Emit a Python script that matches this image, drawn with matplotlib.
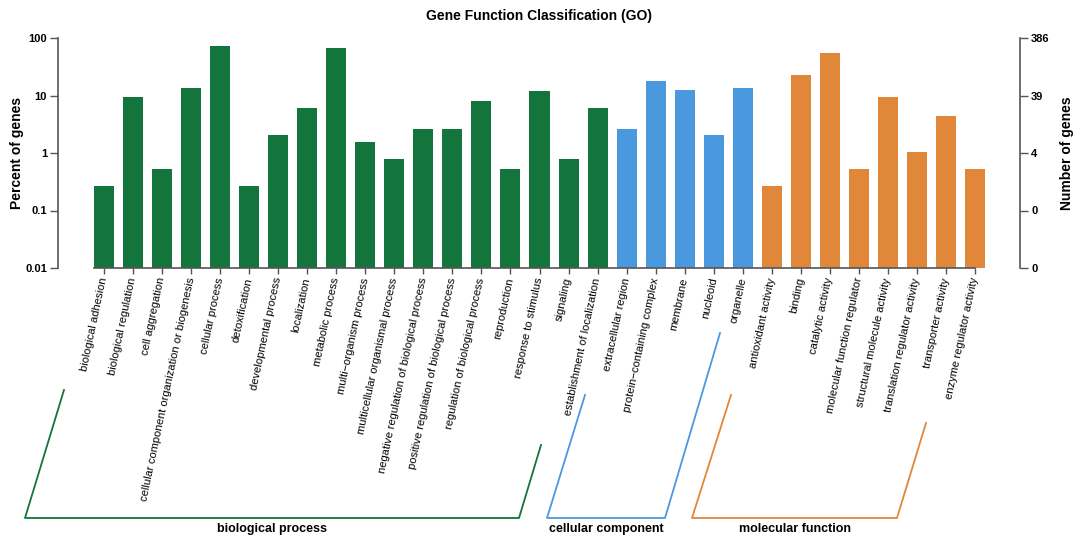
import matplotlib
matplotlib.use("Agg")
import matplotlib.pyplot as plt
from matplotlib.lines import Line2D

plt.rcParams['font.family'] = ['Liberation Sans', 'DejaVu Sans']

total_genes = 386

bp_terms = ["biological adhesion", "biological regulation", "cell aggregation",
            "cellular component organization or biogenesis", "cellular process",
            "detoxification", "developmental process", "localization",
            "metabolic process", "multi\u2212organism process",
            "multicellular organismal process",
            "negative regulation of biological process",
            "positive regulation of biological process",
            "regulation of biological process", "reproduction",
            "response to stimulus", "signaling", "establishment of localization"]
bp_counts = [1, 36, 2, 52, 278, 1, 8, 23, 259, 6, 3, 10, 10, 31, 2, 46, 3, 23]

cc_terms = ["extracellular region", "protein\u2212containing complex", "membrane",
            "nucleoid", "organelle"]
cc_counts = [10, 69, 48, 8, 52]

mf_terms = ["antioxidant activity", "binding", "catalytic activity",
            "molecular function regulator", "structural molecule activity",
            "translation regulator activity", "transporter activity",
            "enzyme regulator activity"]
mf_counts = [1, 89, 212, 2, 37, 4, 17, 2]

group_names = ["biological process", "cellular component", "molecular function"]
group_colors = ["#13753C", "#4A99DF", "#E0873A"]

pct_ticks = [0.01, 0.1, 1, 10, 100]

fig = plt.figure(figsize=(10.86, 5.41), dpi=100)
W, H = 1086, 541
ax = fig.add_axes([58 / W, 1 - 268 / H, (1020 - 58) / W, (268 - 38) / H])

terms = bp_terms + cc_terms + mf_terms
x = 0
for counts, color in zip([bp_counts, cc_counts, mf_counts], group_colors):
    for c in counts:
        ax.bar(x, c / total_genes * 100, width=0.69, color=color, bottom=0.01)
        x += 1

ax.set_yscale('log')
ax.set_ylim(0.01, 100)
ax.set_xlim(-1.585, 31.55)
ax.set_yticks(pct_ticks)
ax.set_yticklabels(["0.01", "0.1", "1", "10", "100"], fontsize=8, fontweight='bold')
ax.minorticks_off()
ax.set_ylabel("Percent of genes", fontsize=10, fontweight='bold')
ax.yaxis.set_label_coords((24 - 58) / 962, 0.5)

ax.set_xticks(range(len(terms)))
ax.set_xticklabels(terms, rotation=78, ha='right', va='center',
                   rotation_mode='anchor', fontsize=8)
ax.tick_params(axis='x', length=4, width=1, color='#555555', pad=3)
ax.tick_params(axis='y', length=6, width=1, color='#555555', pad=2)

for s in ['top', 'right']:
    ax.spines[s].set_visible(False)
for s in ['left', 'bottom']:
    ax.spines[s].set_color('#555555')
    ax.spines[s].set_linewidth(1.2)
ax.spines['bottom'].set_bounds(-0.35, len(terms) - 1)

ax2 = ax.twinx()
ax2.set_yscale('log')
ax2.set_ylim(0.01, 100)
ax2.set_yticks(pct_ticks)
ax2.set_yticklabels([str(round(total_genes * p / 100)) for p in pct_ticks],
                    fontsize=8, fontweight='bold')
ax2.minorticks_off()
ax2.tick_params(axis='y', length=6, width=1, color='#555555', pad=2)
for s in ['top', 'left', 'bottom']:
    ax2.spines[s].set_visible(False)
ax2.spines['right'].set_color('#555555')
ax2.spines['right'].set_linewidth(1.2)
ax2.set_ylabel("Number of genes", fontsize=10, fontweight='bold', rotation=90)
ax2.yaxis.set_label_coords((1060 - 58) / 962, 0.5)

fig.text(539 / W, 1 - 16 / H, "Gene Function Classification (GO)",
         ha='center', va='center', fontsize=10, fontweight='bold')

# group brackets under the labels (figure pixel coords)
brackets = [
    [(64, 390), (25, 518), (519, 518), (541, 445)],
    [(585, 395), (547, 518), (665, 518), (720, 333)],
    [(731, 395), (692, 518), (897, 518), (926, 423)],
]
label_x = [272, 606, 795]
for pts, color, name, lx in zip(brackets, group_colors, group_names, label_x):
    xs = [p[0] / W for p in pts]
    ys = [1 - p[1] / H for p in pts]
    fig.add_artist(Line2D(xs, ys, color=color, linewidth=1.3,
                          transform=fig.transFigure))
    fig.text(lx / W, 1 - 529 / H, name, ha='center', va='center',
             fontsize=9, fontweight='bold')

fig.savefig("out.png", dpi=100)
